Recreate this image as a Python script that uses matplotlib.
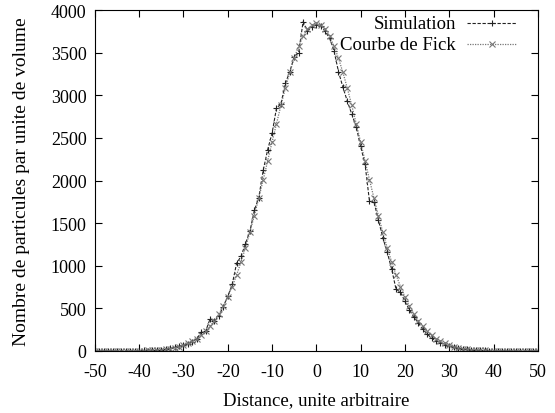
import matplotlib
matplotlib.use("Agg")
import matplotlib.pyplot as plt

# Distance values (arbitrary units)
distance = list(range(-50, 51))

# Simulation (noisy) counts
simulation = [
    0, 0, 0, 0, 1, 0, 1, 2, 1, 3,                      # -50..-41
    3, 5, 4, 8, 10, 16, 20, 30, 40, 52,                # -40..-31
    66, 85, 110, 140, 220, 230, 375, 350, 410, 520,     # -30..-21
    640, 780, 1030, 1110, 1260, 1405, 1650, 1800, 2120, 2360,  # -20..-11
    2556, 2850, 2900, 3140, 3278, 3454, 3500, 3863, 3760, 3800,  # -10..-1
    3830,                                              # 0
    3820, 3750, 3670, 3520, 3278, 3095, 2930, 2780, 2630, 2400,  # 1..10
    2190, 1756, 1750, 1540, 1330, 1160, 960, 722, 690, 580,      # 11..20
    480, 400, 330, 255, 200, 150, 120, 95, 75, 55,               # 21..30
    40, 30, 22, 18, 12, 9, 6, 5, 3, 2,                           # 31..40
    1, 2, 0, 1, 0, 0, 1, 0, 0, 0,                                # 41..50
]

# Fick curve values
fick_half = [3845, 3828, 3776, 3692, 3578, 3435, 3269, 3083, 2881, 2668,
             2451, 2229, 2009, 1795, 1589, 1394, 1213, 1045, 892, 755,
             633, 527, 434, 356, 287, 230, 183, 144, 112, 87,
             67, 51, 38, 28, 21, 15, 11, 8, 6, 4,
             3, 2, 1, 1, 1, 0, 0, 0, 0, 0, 0]
fick = fick_half[:0:-1] + fick_half

labels = ['Simulation', 'Courbe de Fick']
x_ticks = list(range(-50, 51, 10))
y_ticks = list(range(0, 4001, 500))

plt.rcParams['font.family'] = ['Liberation Serif', 'DejaVu Serif']

fig = plt.figure(figsize=(5.55, 4.14), dpi=100)
ax = fig.add_axes([0.171, 0.150, 0.798, 0.823])

styles = [
    dict(linestyle=(0, (3, 1.5)), color='#222222', linewidth=0.8,
         marker='+', markersize=5, markeredgewidth=0.8),
    dict(linestyle=(0, (1, 1)), color='#777777', linewidth=0.9,
         marker='x', markersize=4, markeredgewidth=0.8),
]

ax.plot(distance, simulation, **styles[0])
ax.plot(distance, fick, **styles[1])

ax.set_xlim(-50, 50)
ax.set_ylim(0, 4000)
ax.set_xticks(x_ticks)
ax.set_xticklabels([str(v) for v in x_ticks])
ax.set_yticks(y_ticks)
ax.set_yticklabels([str(v) for v in y_ticks])
ax.tick_params(direction='in', top=True, right=True, length=5, width=0.8,
               labelsize=13, colors='black')
ax.tick_params(axis='x', pad=9)
ax.tick_params(axis='y', pad=6)
for s in ax.spines.values():
    s.set_linewidth(0.8)

ax.set_xlabel('Distance, unite arbitraire', fontsize=13.5, labelpad=8)
ax.set_ylabel('Nombre de particules par unite de volume', fontsize=14, labelpad=15)

# gnuplot-style key: right-aligned text followed by the line sample
key_y = [0.962, 0.900]
for lab, st, yk in zip(labels, styles, key_y):
    ax.text(0.815, yk, lab, transform=ax.transAxes, ha='right', va='center',
            fontsize=13.5)
    ax.plot([0.840, 0.953], [yk, yk], transform=ax.transAxes,
            linestyle=st['linestyle'], color=st['color'], linewidth=st['linewidth'],
            clip_on=False)
    ax.plot([0.8965], [yk], transform=ax.transAxes, linestyle='none',
            marker=st['marker'], markersize=st['markersize'],
            markeredgewidth=st['markeredgewidth'], color=st['color'], clip_on=False)

fig.savefig('out.png', dpi=100)
